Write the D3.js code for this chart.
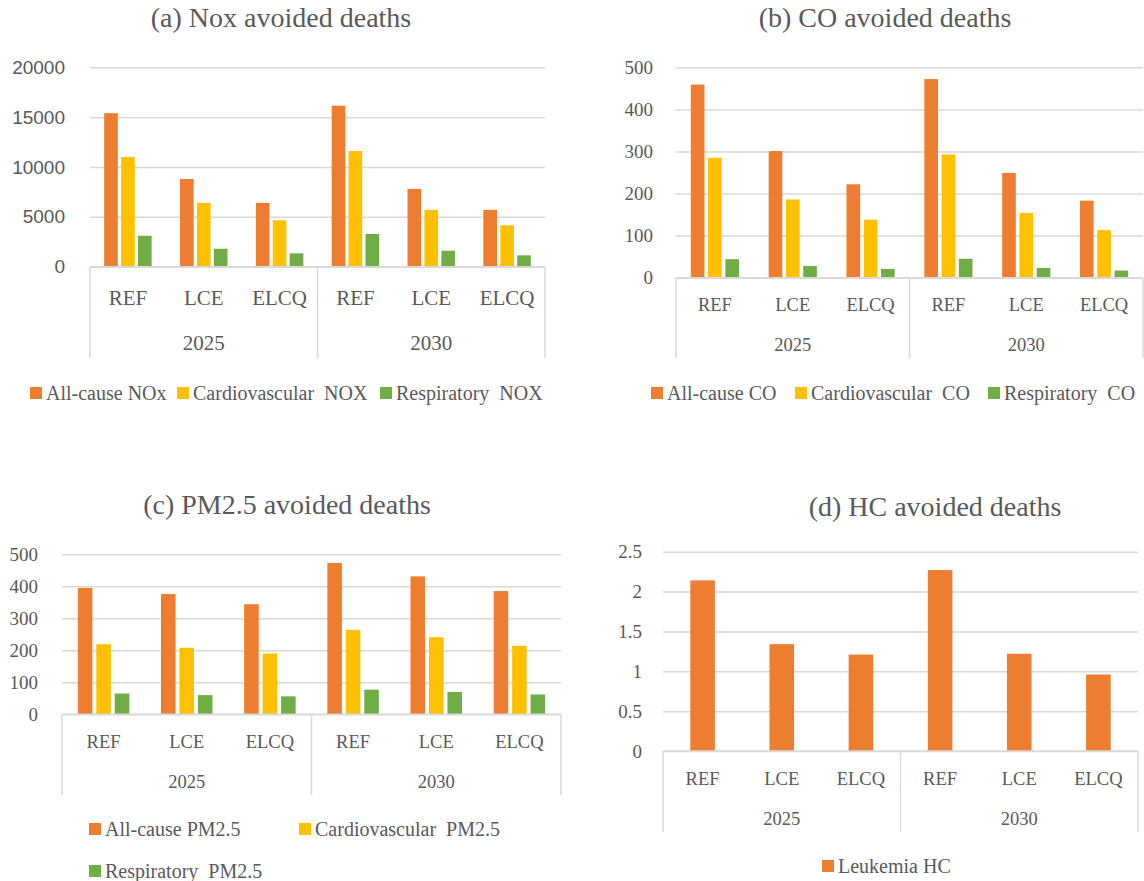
<!DOCTYPE html>
<html>
<head>
<meta charset="utf-8">
<script src="https://cdn.jsdelivr.net/npm/d3@7"></script>
<style>
  html, body { margin: 0; padding: 0; background: #fff; }
  svg { display: block; }
  text { fill: #595959; white-space: pre; }
</style>
</head>
<body>
<svg id="chart" width="1144" height="881"></svg>
<script>
// ---------------- DATA ----------------
const scenarios = ["REF", "LCE", "ELCQ"];
const years = ["2025", "2030"];

const noxAllCause = [15400, 8800, 6400, 16150, 7800, 5700];
const noxCardio   = [11000, 6400, 4650, 11600, 5700, 4150];
const noxResp     = [3100, 1800, 1340, 3280, 1600, 1140];
const noxTicks    = [0, 5000, 10000, 15000, 20000];

const coAllCause = [459, 301, 222, 472, 249, 183];
const coCardio   = [285, 186, 138, 293, 154, 113];
const coResp     = [44, 28, 21, 45, 23, 17];
const coTicks    = [0, 100, 200, 300, 400, 500];

const pmAllCause = [395, 376, 344, 473, 431, 385];
const pmCardio   = [219, 208, 190, 264, 241, 214];
const pmResp     = [65, 60, 56, 77, 70, 62];
const pmTicks    = [0, 100, 200, 300, 400, 500];

const hcLeukemia = [2.14, 1.34, 1.21, 2.27, 1.22, 0.96];
const hcTicks    = [0, 0.5, 1, 1.5, 2, 2.5];
const hcTickLabels = ["0", "0.5", "1", "1.5", "2", "2.5"];

const noxNames = ["All-cause NOx", "Cardiovascular  NOX", "Respiratory  NOX"];
const coNames  = ["All-cause CO", "Cardiovascular  CO", "Respiratory  CO"];
const pmNames  = ["All-cause PM2.5", "Cardiovascular  PM2.5", "Respiratory  PM2.5"];
const hcNames  = ["Leukemia HC"];

const titles = ["(a) Nox avoided deaths", "(b) CO avoided deaths",
                "(c) PM2.5 avoided deaths", "(d) HC avoided deaths"];

// ---------------- STYLE ----------------
const colors = ["#ED7D31", "#FFC000", "#70AD47"];
const gridColor = "#D9D9D9";
const serif = "'Liberation Serif', 'Times New Roman', serif";
const sans = "'Liberation Sans', Arial, sans-serif";

const svg = d3.select("#chart");

const categories = [];
years.forEach(y => scenarios.forEach(s => categories.push(y + "|" + s)));

function drawPanel(cfg) {
  const g = svg.append("g");
  const x = d3.scaleBand().domain(categories).range([cfg.left, cfg.right]);
  const y = d3.scaleLinear().domain([cfg.ticks[0], cfg.ticks[cfg.ticks.length - 1]])
              .range([cfg.bottom, cfg.top]);

  // title
  g.append("text").attr("x", cfg.titleX).attr("y", cfg.titleY)
    .attr("text-anchor", "middle").style("font-family", serif)
    .style("font-size", "28px").text(cfg.title);

  // y axis with gridlines
  const axis = d3.axisLeft(y).tickValues(cfg.ticks)
    .tickSize(-(cfg.right - cfg.left)).tickPadding(cfg.tickPad)
    .tickFormat((d, i) => cfg.tickLabels ? cfg.tickLabels[i] : String(d));
  const ag = g.append("g").attr("transform", `translate(${cfg.left},0)`).call(axis);
  ag.select(".domain").remove();
  ag.selectAll(".tick line").attr("stroke", gridColor).attr("stroke-width", 1.5);
  ag.selectAll(".tick text").attr("fill", "#595959")
    .style("font-family", cfg.tickFont).style("font-size", cfg.tickSize + "px");

  // bars
  const n = cfg.series.length;
  const cw = x.bandwidth();
  const bw = cw * cfg.barFrac;
  const step = n > 1 ? cw * cfg.stepFrac : bw;
  const sub = d3.scaleBand().domain(d3.range(n))
    .range([-n * step / 2, n * step / 2])
    .paddingInner(1 - bw / step).paddingOuter((1 - bw / step) / 2);
  cfg.series.forEach((vals, si) => {
    g.append("g").selectAll("rect").data(vals).join("rect")
      .attr("x", (d, i) => x(categories[i]) + cw / 2 + sub(si))
      .attr("width", sub.bandwidth())
      .attr("y", d => y(d))
      .attr("height", d => y(0) - y(d))
      .attr("fill", colors[si]);
  });

  // category axis box
  const y0 = y(0);
  g.append("line").attr("x1", cfg.left).attr("x2", cfg.right).attr("y1", y0).attr("y2", y0)
    .attr("stroke", gridColor).attr("stroke-width", 1.5);
  const sepXs = [cfg.left, x(years[1] + "|" + scenarios[0]), cfg.right];
  g.selectAll(".sep").data(sepXs).join("line")
    .attr("x1", d => d).attr("x2", d => d).attr("y1", y0).attr("y2", cfg.axisBottom)
    .attr("stroke", gridColor).attr("stroke-width", 1.5);

  // inner labels
  g.selectAll(".cat").data(categories).join("text")
    .attr("x", d => x(d) + cw / 2).attr("y", cfg.catY)
    .attr("text-anchor", "middle").style("font-family", serif)
    .style("font-size", cfg.catSize + "px").text(d => d.split("|")[1]);
  // year labels
  g.selectAll(".yr").data(years).join("text")
    .attr("x", d => (x(d + "|" + scenarios[0]) + x(d + "|" + scenarios[2]) + cw) / 2)
    .attr("y", cfg.yearY)
    .attr("text-anchor", "middle").style("font-family", serif)
    .style("font-size", cfg.catSize + "px").text(d => d);

  // legend
  cfg.names.forEach((name, i) => {
    const p = cfg.legend[i];
    g.append("rect").attr("x", p[0]).attr("y", p[1] - 6).attr("width", 12).attr("height", 12)
      .attr("fill", colors[i]);
    g.append("text").attr("x", p[0] + 16).attr("y", p[1] + 6.5)
      .style("font-family", serif).style("font-size", "20px").text(name);
  });
}

drawPanel({
  title: titles[0], titleX: 281, titleY: 27,
  series: [noxAllCause, noxCardio, noxResp], names: noxNames, ticks: noxTicks,
  left: 90, right: 545, top: 67.3, bottom: 266.7, axisBottom: 358,
  tickPad: 25, tickFont: sans, tickSize: 19,
  barFrac: 0.18, stepFrac: 0.223,
  catY: 305, yearY: 350, catSize: 21,
  legend: [[30, 393], [177, 393], [380, 393]]
});

drawPanel({
  title: titles[1], titleX: 885, titleY: 27,
  series: [coAllCause, coCardio, coResp], names: coNames, ticks: coTicks,
  left: 676, right: 1143, top: 67.3, bottom: 277.7, axisBottom: 358,
  tickPad: 23, tickFont: serif, tickSize: 19,
  barFrac: 0.175, stepFrac: 0.222,
  catY: 311, yearY: 351, catSize: 18.5,
  legend: [[651, 393], [795, 393], [988, 393]]
});

drawPanel({
  title: titles[2], titleX: 287, titleY: 514,
  series: [pmAllCause, pmCardio, pmResp], names: pmNames, ticks: pmTicks,
  left: 62, right: 561, top: 554.3, bottom: 714.3, axisBottom: 795,
  tickPad: 24, tickFont: serif, tickSize: 19,
  barFrac: 0.175, stepFrac: 0.222,
  catY: 748, yearY: 788, catSize: 18.5,
  legend: [[89, 829], [299, 829], [89, 871]]
});

drawPanel({
  title: titles[3], titleX: 935, titleY: 516,
  series: [hcLeukemia], names: hcNames, ticks: hcTicks, tickLabels: hcTickLabels,
  left: 663, right: 1138, top: 551.7, bottom: 751, axisBottom: 832,
  tickPad: 21, tickFont: serif, tickSize: 19,
  barFrac: 0.31, stepFrac: 0.31,
  catY: 785, yearY: 825, catSize: 18.5,
  legend: [[822, 866]]
});
</script>
</body>
</html>
